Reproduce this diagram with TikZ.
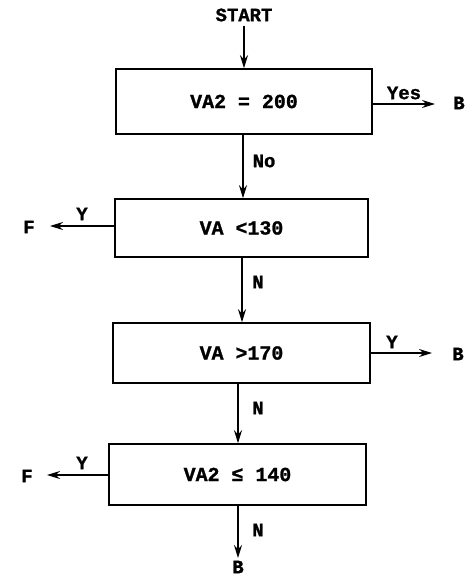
\documentclass[tikz,border=0pt]{standalone}
\usepackage{fontspec}
\setmainfont{Liberation Mono}[BoldFeatures={FakeBold=1.2}]
\usetikzlibrary{arrows.meta}
\tikzset{
  lbl/.style={font=\bfseries\fontsize{19}{22}\selectfont, inner sep=0pt},
  decbox/.style={draw, line width=1.6pt, rectangle, inner sep=0pt, font=\bfseries\fontsize{20}{23}\selectfont},
  flow/.style={-{Stealth[length=13bp,width=8bp]}, line width=1.6pt}
}
\begin{document}
\begin{tikzpicture}[x=1bp,y=-1bp]
\useasboundingbox (0,0) rectangle (467,578);
% boxes
\node[decbox, minimum width=256bp, minimum height=65bp] (b1) at (244,101.5) {VA2 = 200};
\node[decbox, minimum width=253bp, minimum height=58bp] (b2) at (241.5,228) {VA <130};
\node[decbox, minimum width=257bp, minimum height=60bp] (b3) at (241.5,353) {VA >170};
\node[decbox, minimum width=257bp, minimum height=61bp] (b4) at (237.5,474.5) {VA2 ≤ 140};
% terminal texts
\node[lbl] (start) at (244,15) {START};
\node[lbl] (bA) at (459,103) {B};
\node[lbl] (fA) at (29,227) {F};
\node[lbl] (bB) at (458,354) {B};
\node[lbl] (fB) at (27,476) {F};
\node[lbl] (bC) at (238,567) {B};
% arrow ends
\coordinate (eA) at (435,104);
\coordinate (eF1) at (50,226);
\coordinate (eB) at (432,353);
\coordinate (eF2) at (47,475);
\coordinate (eC) at (238,558);
% vertical flow
\draw[flow] (start.south -| 244,0) ++(0,4) -- (b1.north -| 244,0);
\draw[flow] (b1.south -| 243,0) -- (b2.north -| 243,0);
\draw[flow] (b2.south -| 242,0) -- (b3.north -| 242,0);
\draw[flow] (b3.south -| 238,0) -- (b4.north -| 238,0);
\draw[flow] (b4.south -| 238,0) -- (eC);
% side flows
\draw[flow] (b1.east |- 0,104) -- (eA);
\draw[flow] (b2.west |- 0,226) -- (eF1);
\draw[flow] (b3.east |- 0,353) -- (eB);
\draw[flow] (b4.west |- 0,475) -- (eF2);
% labels
\node[lbl] at (264,161) {No};
\node[lbl] at (258,282) {N};
\node[lbl] at (258,408) {N};
\node[lbl] at (258,530) {N};
\node[lbl] at (404,93) {Yes};
\node[lbl] at (82,214) {Y};
\node[lbl] at (392,342) {Y};
\node[lbl] at (82,463) {Y};
\end{tikzpicture}
\end{document}
